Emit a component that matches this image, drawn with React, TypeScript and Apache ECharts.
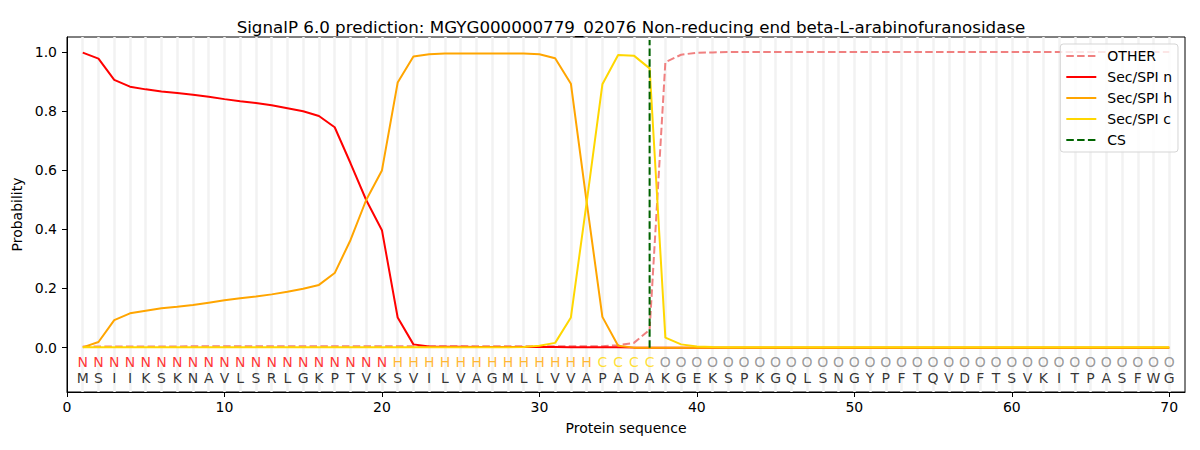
// SignalP 6.0 per-residue probabilities, drawn with ECharts

import { useEffect, useRef } from 'react';
import * as echarts from 'echarts';

const titleText = 'SignalP 6.0 prediction: MGYG000000779_02076 Non-reducing end beta-L-arabinofuranosidase';

const sequence = 'MSIIKSKNAVLSRLGKPTVKSVILVAGMLLVVAPADAKGEKSPKGQLSNGYPFTQVDFTSVKITPASFWG'.split('');
const regions = ('NNNNNNNNNNNNNNNNNNNN' + 'HHHHHHHHHHHHH' + 'CCCC' +
    'OOOOOOOOOOOOOOOOOOOOOOOOOOOOOOOOO').split('');

const otherProb = [
    0.004, 0.004, 0.004, 0.004, 0.004, 0.004, 0.004, 0.005, 0.005, 0.005,
    0.005, 0.005, 0.005, 0.005, 0.005, 0.005, 0.005, 0.005, 0.005, 0.005,
    0.005, 0.005, 0.005, 0.005, 0.005, 0.005, 0.005, 0.005, 0.005, 0.005,
    0.005, 0.005, 0.005, 0.005, 0.008, 0.016, 0.06, 0.965, 0.99, 0.997,
    0.998, 0.999, 0.999, 0.999, 0.999, 0.999, 0.999, 0.999, 0.999, 0.999,
    0.999, 0.999, 0.999, 0.999, 0.999, 0.999, 0.999, 0.999, 0.999, 0.999,
    0.999, 0.999, 0.999, 0.999, 0.999, 0.999, 0.999, 0.999, 0.999, 0.999,
];
const nProb = [
    0.997, 0.977, 0.905, 0.882, 0.873, 0.866, 0.861, 0.855, 0.848, 0.840,
    0.833, 0.827, 0.819, 0.809, 0.799, 0.783, 0.745, 0.624, 0.499, 0.397,
    0.102, 0.011, 0.004, 0.003, 0.003, 0.002, 0.002, 0.002, 0.002, 0.002,
    0.002, 0.001, 0.001, 0.001, 0.001, 0, 0, 0, 0, 0,
    0, 0, 0, 0, 0, 0, 0, 0, 0, 0,
    0, 0, 0, 0, 0, 0, 0, 0, 0, 0,
    0, 0, 0, 0, 0, 0, 0, 0, 0, 0,
];
const hProb = [
    0.001, 0.019, 0.093, 0.116, 0.125, 0.133, 0.138, 0.144, 0.152, 0.160,
    0.167, 0.173, 0.180, 0.189, 0.199, 0.212, 0.252, 0.363, 0.499, 0.599,
    0.896, 0.984, 0.992, 0.994, 0.994, 0.994, 0.994, 0.994, 0.994, 0.992,
    0.978, 0.892, 0.493, 0.104, 0.006, 0, 0, 0, 0, 0,
    0, 0, 0, 0, 0, 0, 0, 0, 0, 0,
    0, 0, 0, 0, 0, 0, 0, 0, 0, 0,
    0, 0, 0, 0, 0, 0, 0, 0, 0, 0,
];
const cProb = [
    0.001, 0.001, 0.001, 0.001, 0.001, 0.001, 0.001, 0.001, 0.001, 0.001,
    0.001, 0.001, 0.001, 0.001, 0.001, 0.001, 0.001, 0.001, 0.001, 0.001,
    0.001, 0.001, 0.001, 0.001, 0.001, 0.001, 0.001, 0.001, 0.002, 0.006,
    0.016, 0.102, 0.49, 0.89, 0.989, 0.987, 0.944, 0.034, 0.011, 0.004,
    0.002, 0.001, 0.001, 0.001, 0.001, 0.001, 0.001, 0.001, 0.001, 0.001,
    0.001, 0.001, 0.001, 0.001, 0.001, 0.001, 0.001, 0.001, 0.001, 0.001,
    0.001, 0.001, 0.001, 0.001, 0.001, 0.001, 0.001, 0.001, 0.001, 0.001,
];

const csPosition = 37;
const csTop = 1.04;

const xTicks = [0, 10, 20, 30, 40, 50, 60, 70];
const yTicks = [0, 0.2, 0.4, 0.6, 0.8, 1.0];

const regionRowY = -0.048;
const seqRowY = -0.102;

const FONT = 'DejaVu Sans';
const regionColors: Record<string, string> = {
    N: '#ff0000',
    H: '#ffa500',
    C: '#ffd700',
    O: '#808080',
};

const toSeries = (values: number[]) => values.map((v, i) => [i + 1, v]);

export default function App() {
    const chartRef = useRef<HTMLDivElement>(null);

    useEffect(() => {
        if (!chartRef.current) return;
        document.body.style.margin = '0';
        const chart = echarts.init(chartRef.current, null, { renderer: 'svg' });

        const lineSeries = (name: string, values: number[], color: string, dashed = false) => ({
            name,
            type: 'line',
            data: toSeries(values),
            symbol: 'none',
            z: 3,
            lineStyle: { color, width: 2, type: dashed ? [7.5, 3.3] : 'solid' },
            itemStyle: { color },
        });

        const option: any = {
            animation: false,
            backgroundColor: '#fff',
            title: {
                text: titleText,
                left: 626,
                top: 13,
                textAlign: 'center',
                textStyle: { fontFamily: FONT, fontSize: 16.7, fontWeight: 'normal', color: '#000' },
            },
            legend: {
                data: ['OTHER', 'Sec/SPI n', 'Sec/SPI h', 'Sec/SPI c', 'CS'],
                orient: 'vertical',
                right: 22,
                top: 44,
                z: 10,
                itemWidth: 30,
                itemHeight: 14,
                itemGap: 7,
                padding: [5, 6, 5, 5],
                itemStyle: { opacity: 0 },
                borderColor: '#d5d5d5',
                borderWidth: 1,
                borderRadius: 3,
                backgroundColor: 'rgba(255,255,255,0.8)',
                textStyle: { fontFamily: FONT, fontSize: 14, color: '#000', padding: [0, 0, 0, 6] },
            },
            grid: {
                left: 67,
                right: 15,
                top: 37,
                bottom: 58,
                show: true,
                borderColor: '#000',
                borderWidth: 1,
                backgroundColor: 'transparent',
            },
            xAxis: {
                type: 'value',
                min: 0,
                max: 71,
                name: 'Protein sequence',
                nameLocation: 'middle',
                nameGap: 29,
                nameTextStyle: { fontFamily: FONT, fontSize: 14, color: '#000' },
                axisLine: { show: true, onZero: false, lineStyle: { color: '#000', width: 1 } },
                axisTick: { show: true, length: 5, customValues: xTicks, lineStyle: { color: '#000' } },
                axisLabel: {
                    customValues: xTicks,
                    margin: 8,
                    fontFamily: FONT,
                    fontSize: 14,
                    color: '#000',
                },
                splitLine: { show: false },
            },
            yAxis: {
                type: 'value',
                min: -0.15,
                max: 1.05,
                name: 'Probability',
                nameLocation: 'middle',
                nameGap: 38,
                nameTextStyle: { fontFamily: FONT, fontSize: 14, color: '#000' },
                axisLine: { show: true, onZero: false, lineStyle: { color: '#000', width: 1 } },
                axisTick: { show: true, length: 5, customValues: yTicks, lineStyle: { color: '#000' } },
                axisLabel: {
                    customValues: yTicks,
                    margin: 10,
                    fontFamily: FONT,
                    fontSize: 14,
                    color: '#000',
                    formatter: (v: number) => v.toFixed(1),
                },
                splitLine: { show: false },
            },
            series: [
                {
                    // one light vertical line per residue, kept behind everything
                    name: 'residues',
                    type: 'line',
                    data: [],
                    z: 0,
                    silent: true,
                    markLine: {
                        silent: true,
                        z: 0,
                        symbol: ['none', 'none'],
                        label: { show: false },
                        lineStyle: { color: '#f2f2f2', width: 2.5, type: 'solid' },
                        data: sequence.map((_, i) => ({ xAxis: i + 1 })),
                    },
                },
                {
                    name: 'letters',
                    type: 'scatter',
                    symbolSize: 0,
                    z: 5,
                    silent: true,
                    data: [
                        ...regions.map((r, i) => ({
                            value: [i + 1, regionRowY],
                            name: r,
                            label: { color: regionColors[r] },
                        })),
                        ...sequence.map((s, i) => ({
                            value: [i + 1, seqRowY],
                            name: s,
                            label: { color: '#000' },
                        })),
                    ],
                    label: {
                        show: true,
                        position: 'inside',
                        formatter: (p: any) => p.name,
                        fontFamily: FONT,
                        fontSize: 14,
                    },
                },
                lineSeries('OTHER', otherProb, '#f08080', true),
                lineSeries('Sec/SPI n', nProb, '#ff0000'),
                lineSeries('Sec/SPI h', hProb, '#ffa500'),
                lineSeries('Sec/SPI c', cProb, '#ffd700'),
                {
                    name: 'CS',
                    type: 'line',
                    symbol: 'none',
                    z: 4,
                    data: [[csPosition, 0], [csPosition, csTop]],
                    lineStyle: { color: '#006400', width: 2, type: [7.5, 3.3] },
                    itemStyle: { color: '#006400' },
                },
            ],
        };

        chart.setOption(option, { notMerge: true });

        return () => {
            chart.dispose();
        };
    }, []);

    return <div ref={chartRef} style={{ width: '1200px', height: '450px' }} />;
}
